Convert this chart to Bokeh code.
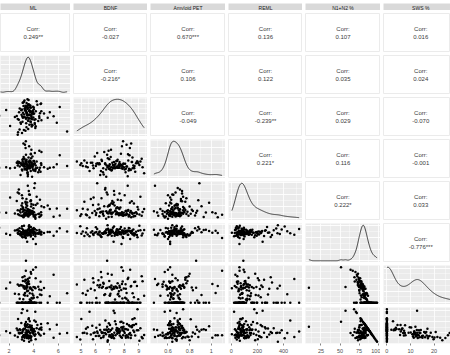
import numpy as np
from bokeh.plotting import figure
from bokeh.models import Range1d, FactorRange, FixedTicker, BasicTicker
from bokeh.layouts import gridplot
from bokeh.core.properties import value
from bokeh.embed import file_html
from bokeh.resources import INLINE

# ---------------- data ----------------
names = ["ML", "BDNF", "Amyloid PET", "REML", "N1+N2 %", "SWS %"]

ml = [3.50, 2.96, 4.00, 3.33, 3.69, 4.14, 3.10, 3.81, 2.08, 3.45,
      2.86, 4.37, 3.60, 3.25, 5.14, 3.93, 3.55, 3.17, 2.62, 3.76,
      3.65, 4.30, 3.37, 6.72, 3.42, 3.04, 4.08, 3.68, 3.21, 4.63,
      3.52, 3.85, 2.70, 3.29, 3.97, 3.58, 1.21, 3.41, 4.56, 3.13,
      3.73, 4.17, 3.34, 3.82, 5.62, 3.49, 2.81, 3.61, 3.90, 3.26,
      3.01, 4.60, 3.53, 3.77, 3.20, 3.66, 2.47, 4.05, 3.44, 3.36,
      3.84, 4.84, 3.57, 3.12, 3.47, 4.01, 2.93, 4.24, 3.71, 3.28,
      6.12, 3.39, 3.89, 3.15, 4.13, 3.63, 2.70, 3.31, 3.98, 3.55,
      4.45, 3.74, 3.05, 1.76, 3.79, 3.45, 3.23, 4.09, 3.60, 5.31,
      3.09, 3.92, 3.50, 2.85, 3.81, 3.68, 4.46, 3.37, 3.58, 2.79,
      3.95, 3.18, 3.65, 4.51, 3.42, 3.87, 2.99, 4.16, 3.29, 3.69,
      5.88, 3.52, 4.03, 3.07, 2.73, 3.77, 3.63, 4.62, 3.33, 3.47]

bdnf = [7.42, 6.15, 8.31, 5.23, 7.86, 6.74, 8.92, 7.08, 5.87, 7.63,
        8.15, 6.52, 7.29, 9.21, 6.93, 7.71, 5.46, 8.48, 7.17, 6.38,
        7.95, 8.67, 6.81, 5.12, 7.54, 8.03, 6.27, 7.36, 9.05, 6.61,
        8.24, 7.48, 4.71, 7.89, 6.99, 8.57, 7.22, 5.68, 8.76, 7.59,
        6.45, 7.81, 8.39, 6.06, 7.13, 9.38, 7.67, 6.88, 5.95, 8.11,
        7.33, 8.82, 6.57, 7.77, 5.34, 8.28, 7.04, 6.69, 8.45, 7.92,
        5.78, 7.51, 8.63, 6.96, 7.26, 8.06, 6.33, 9.12, 7.69, 7.01,
        8.36, 6.21, 7.58, 8.97, 5.59, 7.84, 6.78, 8.19, 7.45, 6.54,
        7.14, 8.52, 4.95, 7.97, 6.86, 8.33, 7.39, 6.12, 8.71, 7.66,
        6.42, 7.87, 8.09, 5.41, 7.21, 8.58, 6.91, 7.73, 9.27, 6.67,
        8.41, 7.06, 6.03, 7.55, 8.88, 6.75, 7.94, 5.83, 8.16, 7.31,
        6.29, 8.69, 7.49, 7.11, 5.02, 8.26, 6.84, 7.79, 8.54, 6.97]

amyloid = [0.63, 0.71, 0.58, 0.76, 0.67, 0.60, 0.74, 0.95, 0.62, 0.69,
           0.65, 0.55, 0.73, 0.79, 0.61, 0.68, 0.64, 1.06, 0.72, 0.57,
           0.70, 0.63, 0.86, 0.66, 0.77, 0.60, 0.71, 0.62, 0.68, 0.91,
           0.48, 0.65, 0.74, 0.61, 0.69, 0.81, 0.63, 0.72, 0.56, 0.67,
           0.75, 0.62, 0.98, 0.70, 0.64, 0.53, 0.73, 0.66, 0.83, 0.61,
           0.68, 0.71, 0.51, 0.88, 0.65, 0.76, 0.63, 0.69, 0.59, 1.10,
           0.72, 0.64, 0.67, 0.78, 0.62, 0.70, 0.50, 0.74, 0.66, 0.60,
           0.85, 0.69, 0.63, 0.71, 0.57, 1.01, 0.67, 0.65, 0.75, 0.62,
           0.59, 0.73, 0.68, 0.64, 0.80, 0.61, 0.70, 0.89, 0.66, 0.63,
           0.77, 0.65, 0.55, 0.72, 0.68, 0.62, 0.93, 0.69, 0.64, 0.71,
           0.60, 0.82, 0.66, 0.63, 0.74, 0.47, 0.70, 0.67, 1.04, 0.65,
           0.69, 0.62, 0.75, 0.58, 0.71, 0.87, 0.64, 0.68, 0.73, 0.66]

reml = [68, 142, 35, 251, 88, 4, 176, 94, 312, 55,
        121, 73, 409, 46, 198, 82, 137, 26, 263, 101,
        59, 225, 92, 151, 71, 344, 39, 112, 65, 187,
        483, 84, 129, 52, 208, 77, 96, 291, 44, 161,
        105, 62, 236, 86, 31, 147, 372, 79, 118, 57,
        195, 99, 48, 274, 67, 132, 81, 452, 115, 63,
        88, 171, 36, 107, 240, 58, 93, 325, 74, 126,
        51, 212, 83, 139, 21, 97, 386, 66, 157, 109,
        76, 258, 42, 91, 183, 61, 124, 520, 87, 145,
        302, 70, 117, 54, 219, 80, 28, 166, 103, 429,
        94, 135, 60, 281, 75, 113, 49, 203, 85, 354,
        153, 43, 98, 230, 69, 119, 357, 57, 90, 192]

n1n2 = [82.4, 76.3, 91.7, 71.5, 85.2, 79.8, 68.4, 87.6, 74.1, 80.9,
        83.7, 77.2, 95.3, 72.6, 81.5, 88.9, 75.4, 79.1, 86.3, 70.2,
        84.6, 78.5, 9.2, 82.9, 73.8, 90.4, 80.3, 76.9, 97.6, 81.2,
        74.7, 85.8, 79.4, 69.3, 83.1, 77.8, 92.5, 80.6, 75.9, 87.2,
        78.2, 51.3, 84.3, 81.7, 72.1, 86.7, 76.5, 89.6, 79.9, 83.4,
        71.9, 82.1, 77.6, 94.2, 80.1, 74.4, 85.5, 78.8, 81.9, 66.7,
        83.8, 79.3, 88.1, 76.1, 57.2, 82.7, 73.3, 86.1, 80.4, 77.3,
        91.1, 75.2, 81.1, 84.9, 70.8, 79.6, 87.9, 82.2, 74.9, 78.1,
        80.7, 85.1, 96.4, 77.1, 73.6, 83.3, 79.2, 89.1, 76.7, 81.8,
        68.9, 84.1, 78.3, 90.8, 82.5, 75.6, 86.9, 80.2, 77.9, 83.6,
        63.8, 81.4, 93.3, 79.7, 74.2, 87.3, 81.3, 76.4, 84.7, 78.6,
        82.8, 72.9, 88.5, 80.5, 77.5, 85.6, 98.6, 75.1, 83.9, 79.5]

sws = [0, 14.2, 0, 18.6, 0, 11.7, 0, 0, 16.3, 9.2,
       3.2, 12.9, 0, 21.4, 0, 0, 9.7, 13.5, 0, 24.8,
       0, 4.5, 12.1, 7.6, 15.8, 0, 12.6, 2.6, 0, 6.2,
       19.3, 0, 14.7, 17.2, 5.9, 0, 0, 11.3, 16.9, 0,
       12.2, 28.7, 0, 3.8, 22.6, 5.6, 13.8, 0, 10.1, 11.4,
       0, 0, 15.3, 0, 6.4, 20.2, 7.2, 0, 13.1, 25.9,
       0, 11.9, 0, 17.6, 12.8, 4.1, 14.4, 0, 12.4, 5.8,
       0, 18.1, 7.3, 2.9, 0, 15.1, 0, 0, 12.7, 16.2,
       10.8, 0, 0, 11.6, 23.5, 0, 13.2, 0, 0, 5.2,
       20.7, 3.5, 14.9, 0, 11.1, 7.7, 0, 0, 17.4, 6.9,
       26.6, 12.3, 0, 6.6, 13.6, 0, 0, 19.8, 7.9, 11.5,
       0, 16.7, 0, 13.9, 0, 1.9, 0, 10.3, 0, 12.8]

# variable of the bottom row (its own column lies outside the cropped view)
rem = [17.6, 9.5, 8.3, 9.9, 14.8, 8.5, 31.6, 12.4, 9.6, 9.9,
       13.1, 9.9, 4.7, 6.0, 18.5, 11.1, 14.9, 7.4, 13.7, 5.0,
       15.4, 17.0, 15.3, 9.5, 10.4, 9.6, 7.1, 20.5, 2.4, 12.6,
       6.0, 14.2, 5.9, 13.5, 11.0, 22.2, 7.5, 8.1, 7.2, 12.8,
       9.6, 20.0, 15.7, 14.5, 5.3, 7.7, 9.7, 10.4, 10.0, 5.2,
       28.1, 17.9, 7.1, 5.8, 13.5, 5.4, 7.3, 21.2, 5.0, 7.4,
       16.2, 8.8, 11.9, 6.3, 30.0, 13.2, 12.3, 13.9, 7.2, 16.9,
       8.9, 6.7, 11.6, 12.2, 29.2, 5.3, 12.1, 17.8, 12.4, 5.7,
       8.5, 14.9, 3.6, 11.3, 2.9, 16.7, 7.6, 10.9, 23.3, 13.0,
       10.4, 12.4, 6.8, 9.2, 6.4, 16.7, 13.1, 19.8, 4.7, 9.5,
       9.6, 6.3, 6.7, 13.7, 12.2, 12.7, 18.7, 3.8, 7.4, 9.9,
       17.2, 10.4, 11.5, 5.6, 22.5, 12.5, 1.4, 14.6, 16.1, 7.7]

major_ticks = [[2, 4, 6], [5, 6, 7, 8, 9], [0.6, 0.8, 1.0],
               [0, 200, 400], [25, 50, 75, 100], [0, 10, 20]]
rem_ticks = [0, 10, 20, 30]

# correlation texts: first row = variable above ML (outside the crop)
corr_first_row = ["0.249**", "-0.027", "0.670***", "0.136", "0.107", "0.016"]
corr_upper = [
    ["-0.216*", "0.106", "0.122", "0.035", "0.024"],
    ["-0.049", "-0.239**", "0.029", "-0.070"],
    ["0.221*", "0.116", "-0.001"],
    ["0.222*", "0.033"],
    ["-0.776***"],
]

data = [ml, bdnf, amyloid, reml, n1n2, sws]

# ---------------- layout / style ----------------
FONT = "Liberation Sans"
W = [70, 74, 75, 74, 75, 67]
HEADER_H = 10
H = [39, 39, 39, 39, 39, 39, 39, 48]
PANEL_BG = "#EBEBEB"


def full_range(v):
    lo, hi = min(v), max(v)
    r = hi - lo
    return lo - 0.05 * r, hi + 0.05 * r


full = [full_range(v) for v in data]
crop_left = [0.06, 0, 0, 0, 0, 0]
crop_right = [0, 0, 0, 0, 0, 0.10]
xr = []
for j, (lo, hi) in enumerate(full):
    span = hi - lo
    xr.append(Range1d(lo + crop_left[j] * span, hi - crop_right[j] * span))
xmid = [(lo + hi) / 2 for lo, hi in full]

row_vars = [bdnf, amyloid, reml, n1n2, sws, rem]
row_ticks = major_ticks[1:] + [rem_ticks]
yr_rows = [Range1d(*full_range(v)) for v in row_vars]


def minors(t):
    step = t[1] - t[0]
    return [t[0] - step / 2 + k * step for k in range(len(t) + 1)]


def kde(vals):
    x = np.asarray(vals, float)
    n = len(x)
    sd = x.std(ddof=1)
    q75, q25 = np.percentile(x, [75, 25])
    bw = 0.9 * min(sd, (q75 - q25) / 1.34) * n ** -0.2
    g = np.linspace(x.min(), x.max(), 300)
    d = np.exp(-0.5 * ((g[:, None] - x[None, :]) / bw) ** 2).sum(1) / (n * bw * np.sqrt(2 * np.pi))
    return g, d


def base(j, h, bg, y_range, bottom=False):
    p = figure(width=W[j], height=h, x_range=xr[j], y_range=y_range, title=None,
               output_backend="svg", toolbar_location=None,
               x_axis_location="below" if bottom else None, y_axis_location=None,
               min_border=0, background_fill_color=bg, border_fill_color="white",
               outline_line_color=None)
    if bottom:
        ax = p.xaxis[0]
        ax.ticker = FixedTicker(ticks=major_ticks[j], minor_ticks=minors(major_ticks[j]))
        ax.axis_line_color = None
        ax.major_tick_in = 0
        ax.major_tick_out = 2
        ax.major_tick_line_color = "#333333"
        ax.major_tick_line_width = 0.6
        ax.minor_tick_line_color = None
        ax.major_label_text_font_size = "5.5px"
        ax.major_label_text_color = "#4D4D4D"
        ax.major_label_text_font = FONT
        ax.major_label_standoff = 1
    return p


def style_grid(p, j, yticker):
    p.xgrid.ticker = FixedTicker(ticks=major_ticks[j], minor_ticks=minors(major_ticks[j]))
    p.ygrid.ticker = yticker
    for g in (p.xgrid, p.ygrid):
        g.grid_line_color = "white"
        g.grid_line_width = 0.8
        g.minor_grid_line_color = "white"
        g.minor_grid_line_width = 0.4


def header_panel(j):
    nm = names[j]
    p = figure(width=W[j], height=HEADER_H, x_range=xr[j], y_range=FactorRange(factors=[nm]),
               title=None, output_backend="svg", toolbar_location=None,
               x_axis_location=None, y_axis_location=None,
               min_border=0, min_border_top=1, background_fill_color="#D9D9D9",
               border_fill_color="white", outline_line_color=None)
    p.grid.visible = False
    p.text(x=[xmid[j]], y=[nm], text=[nm], text_align="center", text_baseline="middle",
           text_font_size="5px", text_line_height=1.0, text_color="#1A1A1A",
           text_font=value(FONT))
    return p


def corr_panel(j, h, label):
    p = base(j, h, "white", FactorRange(factors=["corr"]))
    p.outline_line_color = "#EBEBEB"
    p.grid.visible = False
    p.text(x=[xmid[j]], y=["corr"], text=["Corr:\n" + label], text_align="center",
           text_baseline="middle", text_font_size="6px", text_color="#3A3A3A",
           text_line_height=1.4, text_font=value(FONT))
    return p


def scatter_panel(j, h, ri, bottom=False):
    p = base(j, h, PANEL_BG, yr_rows[ri], bottom)
    t = row_ticks[ri]
    style_grid(p, j, FixedTicker(ticks=t, minor_ticks=minors(t)))
    p.scatter(x=data[j], y=row_vars[ri], size=2.5, color="black", line_color=None)
    return p


def density_panel(j, h):
    g, d = kde(data[j])
    dm = d.max()
    p = base(j, h, PANEL_BG, Range1d(-0.05 * dm, 1.05 * dm))
    style_grid(p, j, BasicTicker(desired_num_ticks=3, num_minor_ticks=2))
    p.line(x=g, y=d, line_color="black", line_width=0.9, line_alpha=0.85)
    return p


rows = [[header_panel(j) for j in range(6)]]
# row 1: all correlation cells
rows.append([corr_panel(j, H[0], corr_first_row[j]) for j in range(6)])
# rows 2-7: the six variables
for v in range(6):
    r = []
    for j in range(6):
        h = H[v + 1]
        if j < v:
            r.append(scatter_panel(j, h, v - 1))
        elif j == v:
            r.append(density_panel(j, h))
        else:
            r.append(corr_panel(j, h, corr_upper[v][j - v - 1]))
    rows.append(r)
# row 8: scatter against the bottom variable
rows.append([scatter_panel(j, H[7], 5, bottom=True) for j in range(6)])

grid = gridplot(rows, toolbar_location=None)
grid.spacing = 3

open("out.html", "w").write(file_html(grid, INLINE))
